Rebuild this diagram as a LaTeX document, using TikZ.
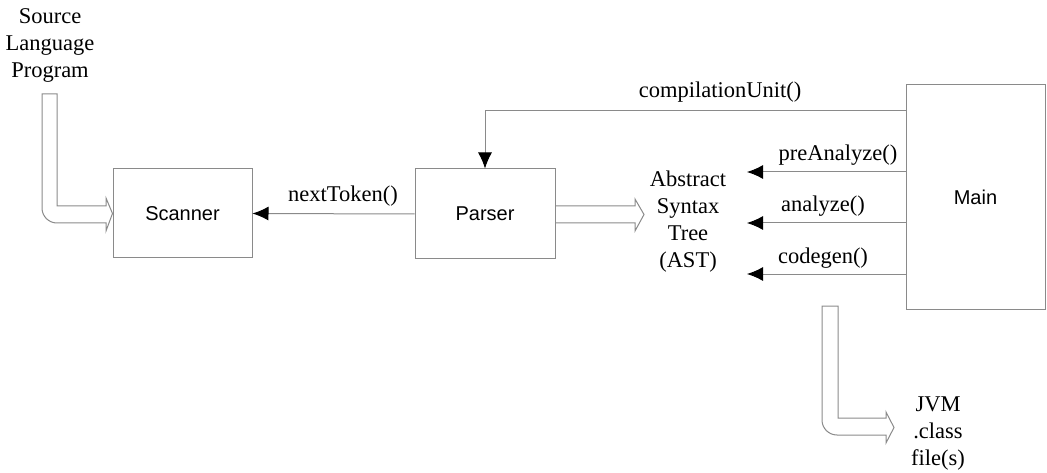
\documentclass[tikz,border=0pt]{standalone}
\usepackage{fontspec}
\setmainfont{Liberation Serif}
\newfontfamily\boxfont{Liberation Sans}
\usetikzlibrary{calc,arrows.meta}
\definecolor{ln}{HTML}{8A8A8A}
\begin{document}
\begin{tikzpicture}[x=1pt,y=-1pt,
  box/.style={draw=ln,line width=1pt,fill=white,inner sep=0pt,font=\boxfont\fontsize{20}{24}\selectfont},
  txt/.style={align=center,inner sep=0pt,font=\fontsize{22.5}{27}\selectfont},
  lbl/.style={anchor=base,inner sep=0pt,font=\fontsize{22.5}{27}\selectfont},
  conn/.style={draw=ln,line width=1pt,-{Latex[length=16pt,width=14pt,color=black]}},
  hollow/.style={draw=ln,line width=1pt,line join=miter}]
\useasboundingbox (0,0) rectangle (1047,473);
% boxes
\node[box,minimum width=139pt,minimum height=89pt] (scanner) at (182.5,213.5) {Scanner};
\node[box,minimum width=140pt,minimum height=90pt] (parser) at (485,214) {Parser};
\node[box,minimum width=139pt,minimum height=224pt] (main) at (975.5,197) {Main};
% texts
\node[txt] (ast) at (688,222) {Abstract\\Syntax\\Tree\\(AST)};
\node[txt] (src) at (50,45) {Source\\Language\\Program};
\node[txt] (jvm) at (938,434) {JVM\\.class\\file(s)};
% connectors
\draw[conn] (parser.west) -- (scanner.east);
\node[lbl] (lnext) at (343,202) {nextToken()};
\draw[conn] ($(main.north west)+(0,26)$) -| (parser.north);
\node[lbl] (lcu) at (720,98) {compilationUnit()};
\coordinate (tpa) at (747,172);
\coordinate (tan) at (747,223);
\coordinate (tcg) at (747,274);
\draw[conn] (main.west |- tpa) -- (tpa);
\draw[conn] (main.west |- tan) -- (tan);
\draw[conn] (main.west |- tcg) -- (tcg);
\node[lbl] (lpa) at (838,161) {preAnalyze()};
\node[lbl] (lan) at (823,212) {analyze()};
\node[lbl] (lcg) at (823,264) {codegen()};
% hollow arrows
\draw[hollow] (42,94) -- (57,94) -- (57,206) -- (106,206) -- (106,198) -- (scanner.west)
  -- (106,231) -- (106,223) -- (57,223) .. controls (48.7,223) and (42,216.3) .. (42,208) -- cycle;
\draw[hollow] ($(parser.east)+(0,-8)$) -- (635,206) -- (635,199) -- (644,214.5) -- (635,231)
  -- (635,223) -- ($(parser.east)+(0,9)$);
\draw[hollow] (822,306) -- (838,306) -- (838,418) -- (886,418) -- (886,412) -- (894,427.5)
  -- (886,443) -- (886,435) -- (837,435) .. controls (828.7,435) and (822,428.3) .. (822,420) -- cycle;
\end{tikzpicture}
\end{document}
